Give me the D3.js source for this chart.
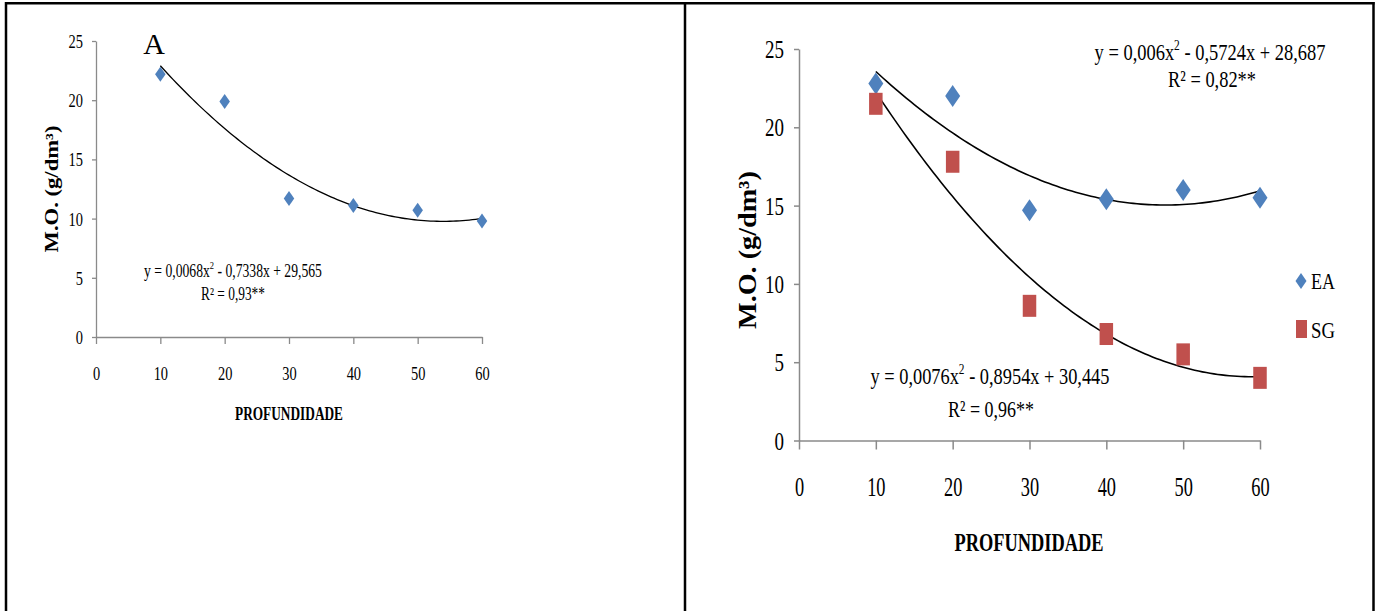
<!DOCTYPE html>
<html><head><meta charset="utf-8">
<script src="https://cdn.jsdelivr.net/npm/d3@7"></script>
<style>html,body{margin:0;padding:0;background:#fff;} svg{display:block;}</style>
</head><body><svg id="c" width="1379" height="611"></svg>
<script>
// ---------- data ----------
const depths = [10, 20, 30, 40, 50, 60];
const xTicks = [0, 10, 20, 30, 40, 50, 60];
const yTicks = [0, 5, 10, 15, 20, 25];
const moA  = [22.2, 19.9, 11.7, 11.1, 10.7, 9.8];
const moEA = [22.8, 22.0, 14.7, 15.4, 16.0, 15.5];
const moSG = [21.5, 17.8, 8.6, 6.8, 5.5, 4.0];
const coefA  = [0.0068, -0.7338, 29.565];
const coefEA = [0.006, -0.5724, 28.687];
const coefSG = [0.0076, -0.8954, 30.445];
const legendNames = ["EA", "SG"];

const BLUE = "#4F81BD", RED = "#C0504D", AXIS = "#8a8a8a", FONT = "'Liberation Serif', 'Times New Roman', serif";
const svg = d3.select("#c");

// ---------- frame ----------
const frame = svg.append("g").attr("stroke", "#000").attr("stroke-width", 2.5);
frame.append("line").attr("x1", 5).attr("x2", 1374.5).attr("y1", 3.2).attr("y2", 3.2);
frame.append("line").attr("x1", 6).attr("x2", 6).attr("y1", 2).attr("y2", 611);
frame.append("line").attr("x1", 685).attr("x2", 685).attr("y1", 2).attr("y2", 611);
frame.append("line").attr("x1", 1373.5).attr("x2", 1373.5).attr("y1", 2).attr("y2", 611);

// ---------- helpers ----------
function richText(g, parts, size, bold) {
  const t = g.append("text").attr("font-family", FONT).attr("font-size", size)
    .attr("font-weight", bold ? "bold" : "normal").attr("fill", "#000").attr("text-anchor", "middle").attr("x", 0).attr("y", 0);
  let shifted = false;
  parts.forEach(p => {
    const ts = t.append("tspan").text(p.t);
    if (p.sup) { ts.attr("font-size", size * 0.62).attr("dy", -size * 0.42); shifted = true; }
    else if (shifted) { ts.attr("dy", size * 0.42); shifted = false; }
  });
  return t;
}
function fitText(g, parts, cx, y, width, size, bold) {
  const t = richText(g, parts, size, bold);
  const len = t.node().getComputedTextLength();
  t.attr("transform", `translate(${cx},${y}) scale(${width / len},1)`);
  return t;
}
function fitVertical(g, parts, cx, cy, length, size, bold, across) {
  const t = richText(g, parts, size, bold).attr("dy", "0.35em");
  const len = t.node().getComputedTextLength();
  t.attr("transform", `translate(${cx},${cy}) rotate(-90) scale(${length / len},${across})`);
  return t;
}
function diamond(w, h) { return `M0,${-h / 2}L${w / 2},0L0,${h / 2}L${-w / 2},0Z`; }
function quad(c) { return x => c[0] * x * x + c[1] * x + c[2]; }
function curvePts(c) { const f = quad(c); return d3.range(10, 60.001, 0.5).map(x => [x, f(x)]); }

function drawAxes(g, x, y, o) {
  const ax = g.append("g").attr("transform", `translate(0,${y(0)})`)
    .call(d3.axisBottom(x).tickValues(xTicks).tickSize(o.xTick).tickSizeOuter(0).tickFormat(d3.format("d")));
  const ay = g.append("g").attr("transform", `translate(${x(0)},0)`)
    .call(d3.axisLeft(y).tickValues(yTicks).tickSize(o.yTick).tickSizeOuter(0).tickFormat(d3.format("d")));
  [ax, ay].forEach(a => {
    a.select(".domain").attr("stroke", AXIS).attr("stroke-width", o.lw);
    a.selectAll(".tick line").attr("stroke", AXIS).attr("stroke-width", o.lw);
    a.selectAll("text").attr("font-family", FONT).attr("fill", "#000");
  });
  ax.selectAll("text").attr("font-size", o.xFont).attr("dy", null).attr("y", o.xBase)
    .attr("transform", `scale(${o.xScale},1)`);
  ay.selectAll("text").attr("font-size", o.yFont).attr("dy", "0.34em").attr("x", -o.yGap / o.yScale)
    .attr("transform", `scale(${o.yScale},1)`);
}

// ---------- panel A ----------
const gA = svg.append("g");
const xA = d3.scaleLinear().domain([0, 60]).range([96, 482]);
const yA = d3.scaleLinear().domain([0, 25]).range([337, 41]);
drawAxes(gA, xA, yA, {xTick: 7, yTick: 4, lw: 1.3, xFont: 19, xScale: 0.76, xBase: 43, yFont: 19, yScale: 0.76, yGap: 13});
const line = (x, y) => d3.line().x(d => x(d[0])).y(d => y(d[1])).curve(d3.curveLinear);
gA.append("path").datum(curvePts(coefA)).attr("d", line(xA, yA)).attr("fill", "none").attr("stroke", "#000").attr("stroke-width", 1.3);
gA.selectAll(".ptA").data(depths).enter().append("path")
  .attr("transform", (d, i) => `translate(${xA(d)},${yA(moA[i])})`).attr("d", diamond(10.5, 15)).attr("fill", BLUE);
gA.append("text").attr("x", 154).attr("y", 54).attr("text-anchor", "middle").attr("font-family", FONT).attr("font-size", 30).text("A");
fitText(gA, [{t: "y = 0,0068x"}, {t: "2", sup: true}, {t: " - 0,7338x + 29,565"}], 233, 277, 178, 18, false);
fitText(gA, [{t: "R² = 0,93**"}], 233, 300, 64, 18, false);
fitText(gA, [{t: "PROFUNDIDADE"}], 289, 420, 108, 18, true);
fitVertical(gA, [{t: "M.O. (g/dm³)"}], 52, 189, 127, 17, true, 1.05);

// ---------- panel B ----------
const gB = svg.append("g");
const xB = d3.scaleLinear().domain([0, 60]).range([799, 1260]);
const yB = d3.scaleLinear().domain([0, 25]).range([440.5, 49]);
drawAxes(gB, xB, yB, {xTick: 9, yTick: 5, lw: 1.5, xFont: 27, xScale: 0.68, xBase: 56, yFont: 25, yScale: 0.76, yGap: 15});
gB.append("path").datum(curvePts(coefEA)).attr("d", line(xB, yB)).attr("fill", "none").attr("stroke", "#000").attr("stroke-width", 1.6);
gB.append("path").datum(curvePts(coefSG)).attr("d", line(xB, yB)).attr("fill", "none").attr("stroke", "#000").attr("stroke-width", 1.6);
gB.selectAll(".ptEA").data(depths).enter().append("path")
  .attr("transform", (d, i) => `translate(${xB(d)},${yB(moEA[i])})`).attr("d", diamond(15, 22)).attr("fill", BLUE);
gB.selectAll(".ptSG").data(depths).enter().append("rect")
  .attr("x", (d, i) => xB(d) - 6.75).attr("y", (d, i) => yB(moSG[i]) - 11).attr("width", 13.5).attr("height", 22).attr("fill", RED);
fitText(gB, [{t: "y = 0,006x"}, {t: "2", sup: true}, {t: " - 0,5724x + 28,687"}], 1210, 60, 231, 24, false);
fitText(gB, [{t: "R² = 0,82**"}], 1212, 87, 88, 24, false);
fitText(gB, [{t: "y = 0,0076x"}, {t: "2", sup: true}, {t: " - 0,8954x + 30,445"}], 990, 384, 239, 24, false);
fitText(gB, [{t: "R² = 0,96**"}], 991, 417, 86, 24, false);
fitText(gB, [{t: "PROFUNDIDADE"}], 1029, 551, 149, 26, true);
fitVertical(gB, [{t: "M.O. (g/dm³)"}], 747, 250, 158, 24, true, 1.05);

// legend
const leg = gB.append("g");
leg.append("path").attr("transform", `translate(1301,281)`).attr("d", diamond(11, 16)).attr("fill", BLUE);
leg.append("rect").attr("x", 1296).attr("y", 320).attr("width", 11).attr("height", 18).attr("fill", RED);
fitText(leg, [{t: legendNames[0]}], 1323, 289, 24, 23, false);
fitText(leg, [{t: legendNames[1]}], 1323, 338, 24, 23, false);
</script></body></html>
